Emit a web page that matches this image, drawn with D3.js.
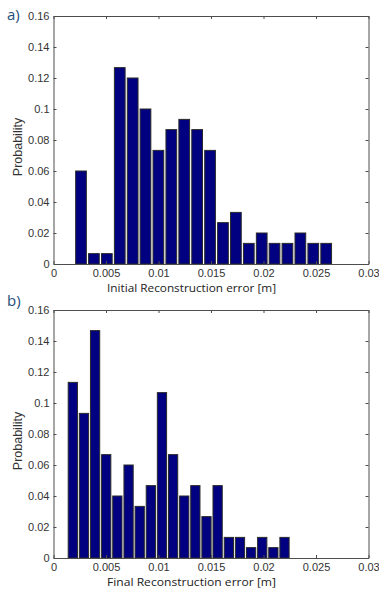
<!DOCTYPE html>
<html><head><meta charset="utf-8">
<script src="https://cdn.jsdelivr.net/npm/d3@7"></script>
<style>body{margin:0;background:#fff}svg{display:block}</style>
</head><body>
<svg id="c" width="379" height="590"></svg>
<script>
// ---- data ----
const xTicks = [0, 0.005, 0.01, 0.015, 0.02, 0.025, 0.03];
const xTickLabels = ["0", "0.005", "0.01", "0.015", "0.02", "0.025", "0.03"];
const yTicks = [0, 0.02, 0.04, 0.06, 0.08, 0.1, 0.12, 0.14, 0.16];
const yTickLabels = ["0", "0.02", "0.04", "0.06", "0.08", "0.1", "0.12", "0.14", "0.16"];

const initialCenters = [0.00262, 0.00385, 0.00508, 0.00631, 0.00754, 0.00876, 0.00999, 0.01122, 0.01245, 0.01368,
  0.01491, 0.01614, 0.01737, 0.01860, 0.01983, 0.02105, 0.02228, 0.02351, 0.02474, 0.02597];
const initialProb = [0.06, 0.0067, 0.0067, 0.1267, 0.12, 0.1, 0.0733, 0.0867, 0.0933, 0.0867,
  0.0733, 0.0267, 0.0333, 0.0133, 0.02, 0.0133, 0.0133, 0.02, 0.0133, 0.0133];
const initialBinWidth = 0.001229;

const finalCenters = [0.00184, 0.00290, 0.00396, 0.00502, 0.00608, 0.00715, 0.00821, 0.00927, 0.01033, 0.01139,
  0.01245, 0.01351, 0.01457, 0.01563, 0.01670, 0.01776, 0.01882, 0.01988, 0.02094, 0.02200];
const finalProb = [0.1133, 0.0933, 0.1467, 0.0667, 0.04, 0.06, 0.0333, 0.0467, 0.1067, 0.0667,
  0.04, 0.0467, 0.0267, 0.0467, 0.0133, 0.0133, 0.0067, 0.0133, 0.0067, 0.0133];
const finalBinWidth = 0.001061;

const panels = [
  {tag: "a)", title: "Initial Reconstruction error [m]", centers: initialCenters, probs: initialProb, bw: initialBinWidth, top: 16, bottom: 264, tagY: 19.5, titleY: 292},
  {tag: "b)", title: "Final Reconstruction error [m]", centers: finalCenters, probs: finalProb, bw: finalBinWidth, top: 310, bottom: 558, tagY: 306, titleY: 585.5}
];

const svg = d3.select("#c");
const left = 53.5, right = 368.5;
const axisColor = "#4d4d4d", textColor = "#333";
const tickFont = "'Liberation Sans', Arial, sans-serif";
const titleFont = "'Open Sans', 'Noto Sans', sans-serif";

panels.forEach(p => {
  const x = d3.scaleLinear().domain([0, 0.03]).range([left, right]);
  const y = d3.scaleLinear().domain([0, 0.16]).range([p.bottom, p.top]);
  const g = svg.append("g");

  // bars
  const bwPx = x(p.bw * 0.83) - x(0);
  g.selectAll("rect.bar").data(p.centers).join("rect")
    .attr("class", "bar")
    .attr("x", (d) => x(d) - bwPx / 2)
    .attr("width", bwPx)
    .attr("y", (d, i) => y(p.probs[i]))
    .attr("height", (d, i) => y(0) - y(p.probs[i]))
    .attr("fill", "#000080")
    .attr("stroke", "#2a2a2a")
    .attr("stroke-width", 1);

  // axes (inward ticks, box)
  const fmtX = (d, i) => xTickLabels[i];
  const fmtY = (d, i) => yTickLabels[i];
  const bottomAx = g.append("g").attr("transform", `translate(0,${p.bottom})`)
    .call(d3.axisBottom(x).tickValues(xTicks).tickFormat(fmtX).tickSizeInner(-3).tickSizeOuter(0).tickPadding(5));
  const topAx = g.append("g").attr("transform", `translate(0,${p.top})`)
    .call(d3.axisTop(x).tickValues(xTicks).tickFormat("").tickSizeInner(-3).tickSizeOuter(0));
  const leftAx = g.append("g").attr("transform", `translate(${left},0)`)
    .call(d3.axisLeft(y).tickValues(yTicks).tickFormat(fmtY).tickSizeInner(-3).tickSizeOuter(0).tickPadding(4));
  const rightAx = g.append("g").attr("transform", `translate(${right},0)`)
    .call(d3.axisRight(y).tickValues(yTicks).tickFormat("").tickSizeInner(-3).tickSizeOuter(0));
  [bottomAx, topAx, leftAx, rightAx].forEach(a => {
    a.select(".domain").attr("stroke", axisColor);
    a.selectAll(".tick line").attr("stroke", axisColor);
    a.selectAll("text").attr("fill", textColor).style("font-family", tickFont).style("font-size", "11px");
  });

  // y label
  g.append("text")
    .attr("transform", `translate(21.5,${(p.top + p.bottom) / 2 + 7}) rotate(-90)`)
    .attr("text-anchor", "middle")
    .style("font-family", tickFont).style("font-size", "12.5px")
    .attr("fill", textColor)
    .text("Probability");

  // x title
  g.append("text")
    .attr("x", 107).attr("y", p.titleY)
    .attr("textLength", 169).attr("lengthAdjust", "spacingAndGlyphs")
    .style("font-family", titleFont).style("font-size", "11px")
    .attr("fill", "#222")
    .text(p.title);

  // panel tag
  g.append("text")
    .attr("x", 7).attr("y", p.tagY)
    .style("font-family", titleFont).style("font-size", "15px")
    .attr("fill", "#1f4e79")
    .text(p.tag);
});
</script>
</body></html>
